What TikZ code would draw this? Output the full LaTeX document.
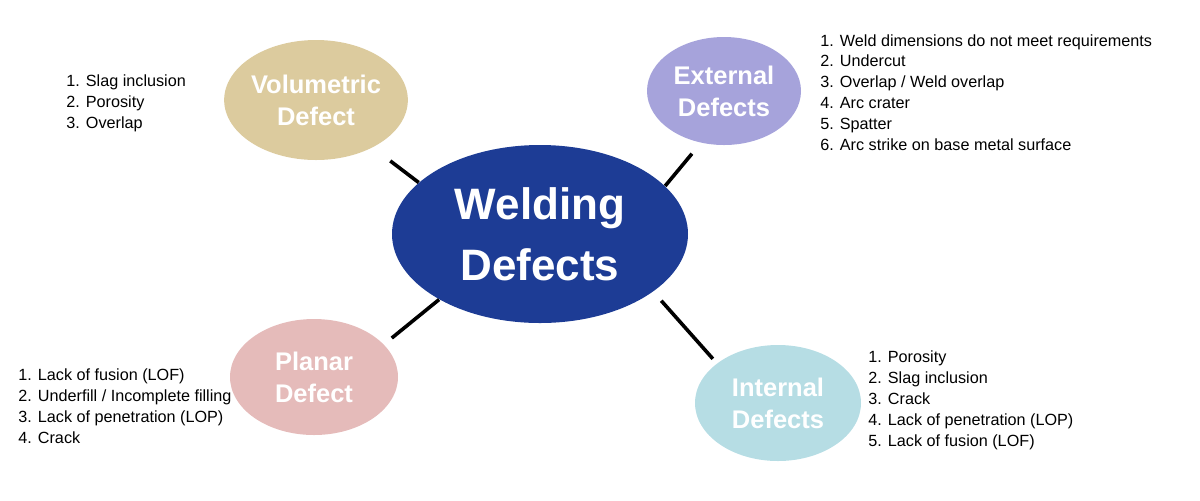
\documentclass[tikz,border=0pt]{standalone}
\usepackage{fontspec}
\setmainfont{Liberation Sans}
\usepackage{xcolor}
\usepackage{tikz}
\usetikzlibrary{shapes.geometric}
\definecolor{weldblue}{HTML}{1D3C95}
\definecolor{volcol}{HTML}{DCCB9E}
\definecolor{extcol}{HTML}{A6A3DB}
\definecolor{plancol}{HTML}{E5BBBA}
\definecolor{intcol}{HTML}{B6DDE4}
\tikzset{
  defect/.style={ellipse, inner sep=0pt, align=center, text=white,
    font=\bfseries\fontsize{12.75}{16}\selectfont},
  spoke/.style={line width=1.8pt},
  deflist/.style={anchor=base west, align=left, inner sep=0pt,
    font=\fontsize{8.1}{10.4}\selectfont},
}

\begin{document}
\begin{tikzpicture}[x=0.5pt, y=-0.5pt]
    \useasboundingbox (0,0) rectangle (1200,500);

    \node[defect, fill=weldblue, minimum width=148pt, minimum height=89pt,
      font=\bfseries\fontsize{22}{30.5}\selectfont] at (540,234) (W) {Welding\\Defects};
    \node[defect, fill=volcol, minimum width=86pt, minimum height=60pt] at (316,100) (V) {Volumetric\\Defect};
    \node[defect, fill=extcol, minimum width=77pt, minimum height=54pt] at (724,91) (E) {External\\Defects};
    \node[defect, fill=plancol, minimum width=84pt, minimum height=58pt] at (314,377) (P) {Planar\\Defect};
    \node[defect, fill=intcol, minimum width=83pt, minimum height=58pt] at (778,403) (I) {Internal\\Defects};

    % spokes
    \draw[spoke, shorten >=11pt] (W.157) -- (V.-40);
    \draw[spoke, shorten >=7pt] (W.21) -- (E.-114);
    \draw[spoke, shorten <=6pt, shorten >=3pt] (W.-27) -- (I.147);
    \draw[spoke, shorten >=5pt] (W.-147) -- (P.25);

    % lists (placed at the baseline of their last line)
    \node[deflist] at (66,128) (Vl) {1. Slag inclusion\\2. Porosity\\3. Overlap};
    \node[deflist] at (820,150) (El) {1. Weld dimensions do not meet requirements\\2. Undercut\\3. Overlap / Weld overlap\\4. Arc crater\\5. Spatter\\6. Arc strike on base metal surface};
    \node[deflist] at (18,443) (Pl) {1. Lack of fusion (LOF)\\2. Underfill / Incomplete filling\\3. Lack of penetration (LOP)\\4. Crack};
    \node[deflist] at (868,446) (Il) {1. Porosity\\2. Slag inclusion\\3. Crack\\4. Lack of penetration (LOP)\\5. Lack of fusion (LOF)};
\end{tikzpicture}
\end{document}
